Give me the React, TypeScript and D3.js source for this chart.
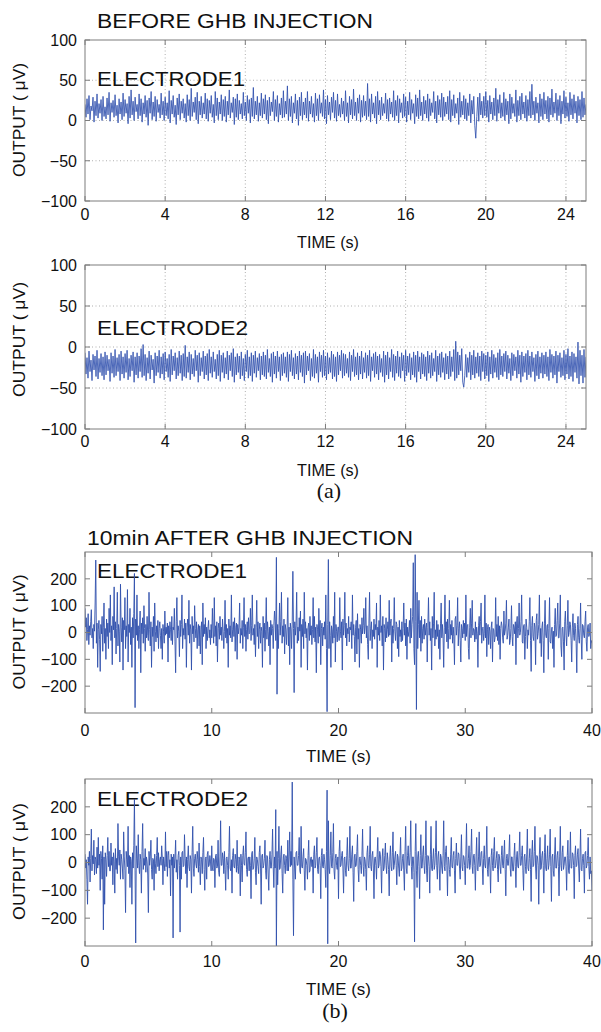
import React from 'react';
import * as d3 from 'd3';

// ---- data (µV), sampled every 0.05 s ----
const e1Before = [
  20,4,27,8,31,1,18,12,29,-2,24,6,33,3,21,9,26,0,30,5,
  17,2,28,7,35,-1,22,10,25,4,32,6,19,-3,27,8,23,1,34,5,
  26,9,21,-4,30,3,38,7,24,0,29,11,20,2,33,6,27,-2,22,8,
  31,4,25,-6,28,9,36,1,23,5,30,-1,26,10,20,3,34,7,24,0,
  29,6,22,2,37,-3,25,8,31,4,19,-5,28,7,33,1,24,9,27,3,
  21,-2,32,6,26,0,40,5,23,10,29,1,35,-4,24,7,30,3,22,8,
  34,2,27,-1,25,9,31,4,20,-3,36,6,28,1,23,8,32,0,26,5,
  30,-2,24,7,38,3,22,10,29,-5,27,4,33,1,25,8,21,2,35,6,
  23,0,31,9,26,-3,28,5,41,2,24,7,30,-1,22,6,34,3,27,8,
  32,1,25,-4,29,6,23,11,36,0,26,5,31,-2,21,7,28,3,37,4,
  24,8,43,0,27,5,30,-3,22,9,33,2,25,-6,29,6,35,1,23,7,
  28,3,36,-1,24,8,30,4,21,-2,34,6,27,0,32,9,22,5,38,2,
  26,-4,31,7,23,1,29,10,35,3,25,-1,33,6,20,4,28,8,24,0,
  37,5,22,-3,30,7,26,2,39,6,23,0,28,9,32,-2,25,4,31,6,
  24,1,46,5,27,-2,33,8,22,3,30,-4,36,7,25,1,29,6,21,9,
  34,2,26,-1,28,8,23,4,37,0,25,6,31,-3,27,10,22,3,33,5,
  29,-2,24,7,35,1,26,9,21,-4,32,5,28,2,38,6,23,0,30,8,
  25,3,33,-1,27,6,22,10,36,2,24,-3,31,7,26,4,34,0,29,5,
  23,8,30,1,37,-2,26,6,32,3,21,9,28,-5,35,4,24,7,31,2,
  27,0,22,6,33,-3,25,8,30,-6,-22,5,29,-1,34,7,24,3,30,6,
  36,4,25,-2,31,8,23,1,28,6,40,-1,26,9,32,3,22,5,35,0,
  27,7,24,-4,33,2,29,9,21,5,38,-2,25,6,30,1,34,8,23,3,
  31,-1,26,6,36,3,45,7,24,0,29,9,22,-3,33,5,27,1,35,8,
  25,2,30,-2,28,7,39,4,23,9,34,0,26,6,31,-4,24,8,37,3,
  29,5,22,-1,35,7,27,2,32,9,24,-3,30,6,26,1,36,4,28,7,
  20,
];

const e2Before = [
  -7,-33,-13,-38,-5,-30,-16,-41,-9,-28,-11,-36,-4,-39,-14,-31,-8,-35,-12,-40,
  -6,-34,-10,-29,-15,-42,-7,-32,-11,-37,-3,-35,-13,-30,-9,-41,-5,-33,-12,-38,
  -8,-31,-4,-40,-14,-36,-10,-29,-6,-43,-12,-34,-7,-38,-11,-30,-2,-37,3,-35,
  -9,-41,-13,-32,-5,-39,-10,-28,-15,-44,-7,-35,-11,-31,-4,-38,-12,-33,-8,-40,
  -6,-30,-14,-37,-9,-42,-3,-34,-11,-29,-7,-39,-13,-35,-5,-32,-10,-41,-8,-36,
  2,-38,-12,-31,-6,-40,-9,-33,-14,-36,-4,-29,-10,-43,-7,-35,-13,-30,-5,-39,
  -11,-34,-8,-41,-3,-32,-12,-37,-6,-30,-15,-39,-9,-35,-4,-42,-10,-31,-7,-38,
  -13,-33,-5,-40,-10,-29,-7,-36,-2,-43,-12,-34,-8,-31,-11,-39,-6,-35,-14,-41,
  -9,-30,-4,-38,-12,-35,-7,-42,-10,-32,-5,-37,-13,-29,-8,-40,-11,-34,-6,-36,
  -10,-39,-3,-31,-14,-36,-8,-43,-6,-33,-11,-38,-5,-30,-12,-41,-9,-35,-7,-32,
  -12,-37,-6,-42,-9,-30,-4,-35,-13,-39,-8,-33,-11,-40,-5,-31,-10,-36,-7,-44,
  -5,-34,-11,-29,-8,-41,-14,-36,-3,-38,-9,-32,-12,-43,-6,-30,-10,-37,-4,-35,
  -11,-40,-7,-33,-13,-31,-5,-39,-9,-36,-12,-42,-6,-34,-10,-29,-4,-38,-8,-35,
  -9,-32,-14,-37,-6,-41,-10,-30,-3,-36,-12,-34,-7,-40,-11,-33,-5,-39,-13,-31,
  -7,-38,-10,-35,-4,-42,-12,-29,-8,-37,-6,-33,-11,-40,-9,-31,-14,-36,-5,-43,
  -10,-34,-6,-39,-13,-30,-3,-37,-9,-41,-11,-32,-5,-36,-12,-38,-7,-29,-10,-42,
  -4,-35,-11,-31,-8,-40,-13,-34,-6,-37,-10,-43,-5,-30,-12,-39,-7,-33,-9,-36,
  -12,-41,-5,-32,-10,-38,-7,-35,-14,-30,-4,-42,-11,-34,-8,-37,-6,-31,-13,-40,
  -8,-33,-11,-39,-5,-36,-12,-30,-3,-41,7,-38,-6,-34,-10,-29,-2,-43,-49,-35,
  -9,-37,-13,-31,-6,-40,-10,-34,-4,-38,-12,-32,-7,-36,-11,-41,-5,-30,-8,-39,
  -10,-35,-6,-42,-12,-33,-4,-38,-9,-31,-13,-37,-7,-40,-3,-34,-11,-36,-8,-30,
  -5,-39,-10,-32,-14,-41,-7,-35,-9,-29,-12,-38,-4,-33,-10,-43,-6,-36,-11,-31,
  -8,-40,-4,-34,-11,-37,-6,-30,-13,-42,-9,-35,-5,-39,-12,-32,-7,-38,-10,-33,
  -6,-36,-12,-41,-3,-31,-9,-38,-11,-34,-5,-44,-10,-30,-7,-37,-13,-35,-4,-40,
  -9,-33,-2,-39,-11,-36,-6,-42,-8,-31,-12,-38,6,-45,-4,-35,-10,-44,-3,-37,
  -12,
];

const e1After = [
  90,20,55,-30,10,70,-45,25,-10,40,85,-20,15,-60,30,5,110,270,-40,35,
  -130,10,45,-25,-145,30,-5,60,-70,20,110,-40,15,-100,50,-15,35,-60,90,0,
  140,-30,25,-120,60,10,170,-20,40,-80,15,150,-50,30,5,-110,180,20,-35,55,
  -140,45,10,130,-60,25,-15,160,-110,30,0,90,-45,20,-130,55,-20,70,220,-280,
  50,-10,140,-30,25,-60,10,80,-150,35,-5,55,-40,100,15,-70,30,-20,60,-10,
  -30,150,10,-50,40,-130,20,-15,60,-70,110,5,-35,25,-20,45,-60,15,40,-10,
  -60,15,-100,30,5,-40,80,-10,20,-5,35,-110,25,-20,40,10,-30,60,-45,20,
  10,90,-35,-150,40,130,-20,25,5,-90,45,-15,30,140,-60,15,-10,50,-25,35,
  -130,20,50,-10,120,-40,30,10,-140,60,-5,25,-35,100,15,-20,40,-60,10,30,
  -50,25,-80,10,40,-120,110,-15,30,-5,55,-60,20,-30,15,45,-20,10,-45,30,
  -20,90,10,-40,130,-15,25,-50,40,-110,15,35,-25,60,-10,20,-30,50,5,-60,
  5,120,-20,30,-40,15,-130,50,-10,25,-20,140,-35,10,40,-15,55,-70,20,35,
  -100,30,-5,20,110,-40,15,-10,45,-60,20,130,-15,30,-70,10,40,-25,55,-5,
  0,90,-30,25,140,-10,15,-45,30,-90,20,120,-15,40,-60,10,35,-40,20,5,
  -130,60,-20,35,-70,10,130,-25,40,5,-50,20,-120,45,-10,30,15,-60,25,80,
  40,-30,280,-230,30,-60,15,110,-10,40,150,-40,25,-15,50,-80,30,10,-45,20,
  130,-50,20,-120,35,10,-60,40,228,15,-224,40,-10,25,150,-40,20,-30,55,5,
  80,-130,30,-15,50,-60,150,-5,40,-20,15,-140,20,35,-30,60,-10,25,-45,10,
  130,-20,60,-35,20,-150,30,10,-40,90,-15,45,-120,15,35,-50,20,-10,40,-25,
  140,-60,-295,30,272,-60,40,-10,-130,25,10,-40,60,-20,150,-110,30,5,-35,20,
  20,-30,130,5,-20,40,-140,50,-10,25,150,-20,35,-50,15,-5,60,-35,20,10,
  40,-60,140,-10,30,-15,-110,20,45,-80,70,-25,15,-130,30,10,-40,55,-5,25,
  90,-5,20,130,-20,25,-45,-100,35,150,-30,15,40,-60,10,-15,50,-25,30,10,
  110,-130,20,-10,45,-30,140,0,25,-50,60,-140,30,15,-35,55,-20,10,40,-15,
  120,-10,35,50,-110,25,-40,15,130,5,-30,40,30,-60,20,-90,45,-15,10,-35,
  40,-30,15,110,-10,35,-50,50,-100,20,-15,5,45,-40,90,-20,30,60,260,-60,
  -120,290,40,-287,150,-60,30,120,-20,45,-70,60,-40,15,30,-25,50,-10,20,35,
  -110,20,130,-10,40,-30,15,-140,60,-20,35,150,-50,10,-25,45,-15,30,-60,10,
  -100,35,110,-20,30,-15,-130,20,140,-5,40,-35,50,-60,15,120,-25,30,-10,45,
  -40,20,-15,-120,50,60,-10,25,130,-50,15,40,-30,-110,30,15,-20,45,-5,35,
  -30,140,-15,25,30,-60,-100,20,90,-20,35,120,-10,15,10,-35,40,-25,20,-5,
  -130,25,60,-10,40,110,-40,15,20,-30,-5,140,-20,35,-90,10,30,-45,20,5,
  -60,20,40,-110,15,10,-35,-20,130,-15,30,-30,60,-45,25,-100,15,40,25,-20,
  -40,80,-10,5,35,120,-25,-10,20,50,-45,-30,15,100,-15,-50,30,20,-5,40,
  -120,35,60,-20,15,110,-10,0,40,140,-35,-40,25,30,-100,-15,50,20,-60,10,
  -10,40,130,-30,-145,25,60,-15,-30,35,20,-120,45,70,-25,-5,30,140,-40,15,
  -90,20,40,-30,-150,35,120,-10,-20,25,30,-100,15,130,-35,-40,10,20,-60,5,
  -130,30,90,-15,-10,45,110,-20,-20,35,140,-50,-90,15,20,-35,-140,40,80,-10,
  -50,25,120,-15,0,40,30,-30,-110,20,70,-10,-30,35,15,-40,-150,30,60,-20,
  -40,15,110,-25,-100,30,25,-10,-20,40,80,-35,-70,20,30,-15,-5,35,-60,-30,
  -40,
];

const e2After = [
  30,-20,10,-60,-150,20,-10,40,-70,15,120,-30,25,-5,80,-45,20,10,-40,55,
  -20,90,-10,30,-100,40,15,-60,60,-242,20,-150,35,10,-50,25,90,-15,40,-30,
  -30,70,-10,20,-80,35,5,-110,50,-25,15,-40,140,20,-10,45,-60,30,10,-20,
  -60,110,20,-30,-180,40,10,-15,130,-40,25,-90,20,5,-150,35,-20,60,227,-30,
  -289,60,15,-20,100,-10,-40,30,10,-110,40,140,-25,15,-10,50,-35,20,5,-45,
  -180,40,-10,20,80,-25,-60,15,10,-100,30,-5,-40,25,90,-15,35,-30,10,20,
  -10,60,15,-80,20,-5,-30,110,-15,40,-50,25,40,-20,10,-120,30,-10,20,-271,
  30,-20,15,80,-35,10,-60,25,40,-10,-250,20,-60,35,40,-15,-10,100,15,-40,
  20,-90,10,60,-15,-30,25,10,-110,35,130,-20,-50,15,30,-5,-20,40,10,-35,
  70,-15,-80,20,10,-40,35,90,-25,-100,15,20,-60,30,40,-15,-10,25,5,-30,
  60,-20,-30,15,10,-90,25,30,-20,-15,80,-35,-50,20,150,-10,-10,35,15,-40,
  40,-25,-100,15,20,-10,-60,35,130,-20,-30,10,-110,25,50,-15,-20,30,10,-35,
  80,-15,-40,20,10,-120,30,-10,-70,25,60,-5,-10,35,110,-25,-50,15,20,-30,
  20,-10,-130,30,40,-25,-20,15,90,-35,-80,20,10,-15,-40,35,60,-20,-150,25,
  30,-20,-10,15,80,-30,-60,25,20,-45,-100,10,40,-20,-20,30,120,-15,-90,20,
  -20,190,-300,40,-80,15,130,-25,-20,30,60,-40,-110,20,30,-10,-40,25,15,-30,
  80,-30,20,110,-15,40,-10,289,-60,-263,20,-20,-60,35,40,-10,-10,25,90,-30,
  -40,130,-15,-20,20,50,-30,-100,15,10,-10,-60,25,80,-35,-30,15,20,-15,10,
  -110,30,60,-20,-10,35,90,-25,-40,15,20,-10,-130,25,50,-15,-20,30,10,-25,
  -90,40,260,-292,150,-20,-40,25,110,-15,-20,35,140,-30,-60,15,30,-10,-25,20,
  -130,40,80,-15,-10,25,40,-20,-110,15,20,-30,-50,25,90,-10,-30,15,130,-20,
  -20,30,60,-35,-140,20,30,-15,-10,40,100,-25,-70,15,20,-10,-40,25,120,-15,
  -50,20,10,-25,-100,35,60,-10,-20,30,130,-15,-30,25,40,-20,-130,15,20,-10,
  -60,30,90,-20,-10,40,30,-15,-110,20,50,-30,-20,25,70,-10,-40,35,10,-25,
  -120,20,60,-15,-30,35,110,-25,-10,20,40,-10,-80,30,20,-20,-50,25,90,-30,
  -20,15,30,-30,-100,40,130,-20,-40,25,60,-10,-10,35,150,-15,-60,20,20,-35,
  -285,40,140,-30,-90,20,40,-15,-130,25,100,-20,-20,30,60,-10,-40,25,150,-30,
  -70,25,20,-15,-110,30,130,-20,-30,15,50,-25,-10,35,150,-10,-60,20,40,-20,
  -100,30,20,-20,-40,25,150,-15,-30,40,60,-10,-120,20,10,-25,-50,30,90,-15,
  -20,25,40,-30,-110,15,70,-10,-10,35,30,-20,-60,20,100,-15,-30,25,20,-10,
  -80,30,140,-20,-20,15,60,-25,-10,40,120,-15,-40,25,30,-10,-100,20,90,-25,
  -30,20,110,-15,-10,35,40,-20,-80,15,60,-10,-20,30,130,-25,-50,15,20,-20,
  -110,25,50,-10,-30,40,90,-20,-10,15,40,-25,-70,30,20,-15,-40,25,60,-10,
  -20,30,80,-25,-120,15,30,-10,-10,35,100,-20,-50,20,20,-30,-30,25,70,-15,
  -90,20,40,-15,-20,35,110,-10,-10,25,60,-30,-100,20,30,-15,-40,30,120,-20,
  -30,15,50,-25,-140,30,80,-15,-10,40,130,-20,-60,25,20,-10,-150,30,90,-25,
  -20,25,40,-10,-110,35,100,-20,-30,15,60,-25,-10,30,120,-15,-140,20,30,-30,
  -50,30,90,-20,-20,25,40,-15,-120,20,130,-10,-30,35,60,-25,-10,20,20,-15,
  -100,25,80,-30,-40,15,110,-20,-20,35,30,-10,-130,25,60,-15,-10,30,50,-20,
  -70,20,120,-25,-30,15,30,-10,-110,35,40,-20,-10,25,90,-15,-60,20,-40,-30,
  -100,
];

const xTicksA = [0, 4, 8, 12, 16, 20, 24];
const yTicksA = [-100, -50, 0, 50, 100];
const xTicksB = [0, 10, 20, 30, 40];
const yTicksB = [-200, -100, 0, 100, 200];

const titleA = 'BEFORE GHB INJECTION';
const titleB = '10min AFTER GHB INJECTION';
const yLabel = 'OUTPUT ( \u03BCV)';
const xLabel = 'TIME (s)';

const FONT = '"Liberation Sans", Arial, Helvetica, sans-serif';
const SERIF = '"Liberation Serif", "Times New Roman", serif';
const LINE = '#3050ad';
const BOX = '#7d7d7d';
const ADJ = 'spacingAndGlyphs';

type PanelProps = {
  id: string;
  left: number; right: number; top: number; bottom: number;
  xMax: number; yMin: number; yMax: number;
  xTicks: number[]; yTicks: number[];
  grid: boolean;
  values: number[];
  lineWidth: number;
  label: string; labelY: number; labelLen: number;
  tickBase: number; xLabelBase: number; xLabelX: number; xLabelLen: number;
  yLabelX: number; yLabelY: number; yLabelLen: number;
};

function Panel(p: PanelProps) {
  const x = d3.scaleLinear().domain([0, p.xMax]).range([p.left, p.right]);
  const y = d3.scaleLinear().domain([p.yMin, p.yMax]).range([p.bottom, p.top]);
  const n = p.values.length;
  const line = d3
    .line<number>()
    .x((_, i) => x((p.xMax * i) / (n - 1)))
    .y((d) => y(d));
  const clipId = 'clip-' + p.id;
  const tl = 5;
  return (
    <g>
      <defs>
        <clipPath id={clipId}>
          <rect x={p.left} y={p.top} width={p.right - p.left} height={p.bottom - p.top} />
        </clipPath>
      </defs>
      {p.grid && (
        <g stroke="#9a9a9a" strokeWidth={0.8} strokeDasharray="1,2.5">
          {p.xTicks.filter((t) => t > 0 && t < p.xMax).map((t) => (
            <line key={'gx' + t} x1={x(t)} x2={x(t)} y1={p.top} y2={p.bottom} />
          ))}
          {p.yTicks.filter((t) => t > p.yMin && t < p.yMax).map((t) => (
            <line key={'gy' + t} x1={p.left} x2={p.right} y1={y(t)} y2={y(t)} />
          ))}
        </g>
      )}
      <text x={97} y={p.labelY} fontFamily={FONT} fontSize={20.5} fill="#111" textLength={p.labelLen} lengthAdjust={ADJ}>
        {p.label}
      </text>
      <path
        d={line(p.values) || ''}
        fill="none"
        stroke={LINE}
        strokeWidth={p.lineWidth}
        strokeLinejoin="round"
        clipPath={`url(#${clipId})`}
      />
      <rect x={p.left} y={p.top} width={p.right - p.left} height={p.bottom - p.top} fill="none" stroke={BOX} strokeWidth={1} />
      <g stroke={BOX} strokeWidth={1}>
        {p.xTicks.map((t) => (
          <g key={'tx' + t}>
            <line x1={x(t)} x2={x(t)} y1={p.bottom} y2={p.bottom - tl} />
            <line x1={x(t)} x2={x(t)} y1={p.top} y2={p.top + tl} />
          </g>
        ))}
        {p.yTicks.map((t) => (
          <g key={'ty' + t}>
            <line x1={p.left} x2={p.left + tl} y1={y(t)} y2={y(t)} />
            <line x1={p.right} x2={p.right - tl} y1={y(t)} y2={y(t)} />
          </g>
        ))}
      </g>
      <g fontFamily={FONT} fontSize={16} fill="#111">
        {p.xTicks.map((t) => (
          <text key={'lx' + t} x={x(t)} y={p.tickBase} textAnchor="middle">{t}</text>
        ))}
        {p.yTicks.map((t) => (
          <text key={'ly' + t} x={77} y={y(t)} dy="0.36em" textAnchor="end">
            {t < 0 ? '\u2212' + Math.abs(t) : String(t)}
          </text>
        ))}
      </g>
      <text x={p.xLabelX} y={p.xLabelBase} fontFamily={FONT} fontSize={17} fill="#111" textLength={p.xLabelLen} lengthAdjust={ADJ}>
        {xLabel}
      </text>
      <text
        transform={`translate(${p.yLabelX},${p.yLabelY}) rotate(-90)`}
        textAnchor="middle"
        fontFamily={FONT}
        fontSize={17}
        fill="#111"
        textLength={p.yLabelLen}
        lengthAdjust={ADJ}
      >
        {yLabel}
      </text>
    </g>
  );
}

export default function App() {
  return (
    <svg
      width={601}
      height={1032}
      viewBox="0 0 601 1032"
      style={{ position: 'absolute', left: 0, top: 0, background: '#fff' }}
    >
      <rect x={0} y={0} width={601} height={1032} fill="#fff" />
      <text x={97} y={27.7} fontFamily={FONT} fontSize={20} fill="#111" textLength={276} lengthAdjust={ADJ}>
        {titleA}
      </text>
      <Panel
        id="a1" left={85} right={586} top={40} bottom={201}
        xMax={25} yMin={-100} yMax={100} xTicks={xTicksA} yTicks={yTicksA} grid
        values={e1Before} lineWidth={0.85} label="ELECTRODE1" labelY={85.7} labelLen={148}
        tickBase={220} xLabelBase={247.5} xLabelX={297} xLabelLen={62}
        yLabelX={25} yLabelY={120} yLabelLen={114}
      />
      <Panel
        id="a2" left={85} right={586} top={265} bottom={429}
        xMax={25} yMin={-100} yMax={100} xTicks={xTicksA} yTicks={yTicksA} grid
        values={e2Before} lineWidth={0.85} label="ELECTRODE2" labelY={335} labelLen={151}
        tickBase={447} xLabelBase={475.5} xLabelX={297} xLabelLen={62}
        yLabelX={25} yLabelY={339.5} yLabelLen={115}
      />
      <text x={329} y={498} fontFamily={SERIF} fontSize={22} fill="#111" textAnchor="middle">
        (a)
      </text>
      <text x={87} y={545} fontFamily={FONT} fontSize={20} fill="#111" textLength={326} lengthAdjust={ADJ}>
        {titleB}
      </text>
      <Panel
        id="b1" left={85} right={592} top={552} bottom={713}
        xMax={40} yMin={-300} yMax={300} xTicks={xTicksB} yTicks={yTicksB} grid={false}
        values={e1After} lineWidth={0.9} label="ELECTRODE1" labelY={578} labelLen={150}
        tickBase={736} xLabelBase={762} xLabelX={306} xLabelLen={65}
        yLabelX={25} yLabelY={632} yLabelLen={115}
      />
      <Panel
        id="b2" left={85} right={592} top={779} bottom={946}
        xMax={40} yMin={-300} yMax={300} xTicks={xTicksB} yTicks={yTicksB} grid={false}
        values={e2After} lineWidth={0.9} label="ELECTRODE2" labelY={806} labelLen={151}
        tickBase={967} xLabelBase={995} xLabelX={306} xLabelLen={65}
        yLabelX={25} yLabelY={861.5} yLabelLen={117}
      />
      <text x={335} y={1018} fontFamily={SERIF} fontSize={22} fill="#111" textAnchor="middle">
        (b)
      </text>
    </svg>
  );
}
